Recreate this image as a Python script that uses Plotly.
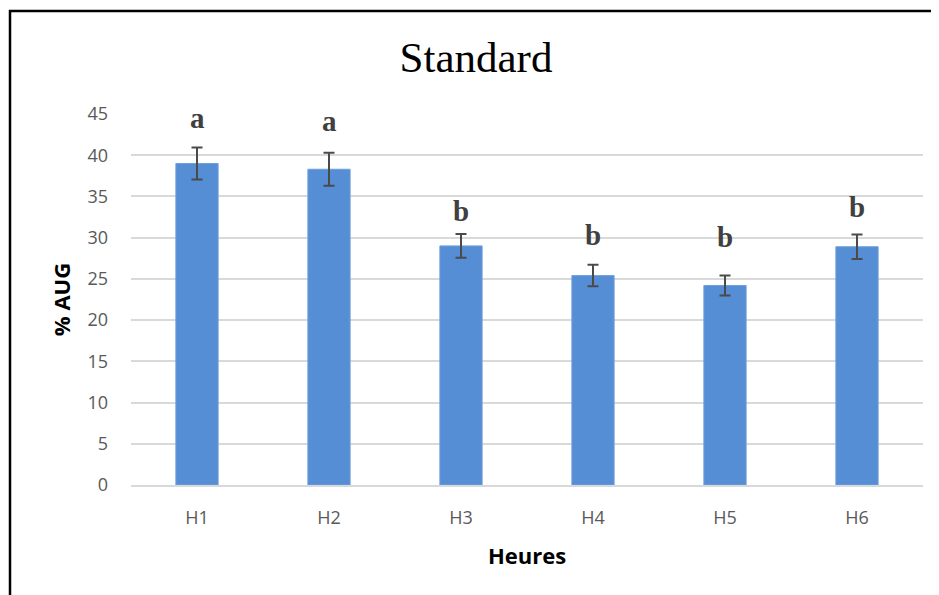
import plotly.graph_objects as go

categories = ["H1", "H2", "H3", "H4", "H5", "H6"]
values = [39.0, 38.3, 29.0, 25.4, 24.2, 28.9]
errors = [1.95, 2.0, 1.45, 1.3, 1.22, 1.48]
letters = ["a", "a", "b", "b", "b", "b"]
letter_heights = [43.15, 42.86, 31.9, 29.0, 28.77, 32.4]
y_ticks = [0, 5, 10, 15, 20, 25, 30, 35, 40, 45]

OFF = 8  # page body margin
W, H = 939, 595
L = 131 - OFF
T = 114 - OFF
R = W - (923 - OFF)
B = H - (485 - OFF)

fig = go.Figure()
fig.add_trace(go.Bar(
    x=categories, y=values, width=0.32,
    marker=dict(color="#558ed5", line=dict(color="#6f9fdc", width=1)),
    error_y=dict(type="data", array=errors, visible=True, color="#4a4a4a",
                 thickness=2, width=5.5),
    showlegend=False,
))

for c, t, h in zip(categories, letters, letter_heights):
    fig.add_annotation(x=c, y=h, text=t, showarrow=False, yanchor="bottom",
                       yshift=-7,
                       font=dict(family="Liberation Serif", size=29, color="#404040",
                                 weight="bold"))

def px2paper_x(px):
    return (px - OFF - L) / (W - L - R)

def px2paper_y(py):
    return (H - B - (py - OFF)) / (H - T - B)

fig.add_shape(type="rect", xref="paper", yref="paper",
              x0=px2paper_x(10), x1=px2paper_x(960),
              y0=px2paper_y(620), y1=px2paper_y(11),
              line=dict(color="black", width=2.5), fillcolor="rgba(0,0,0,0)",
              layer="above")

fig.update_layout(
    width=W, height=H,
    margin=dict(l=L, r=R, t=T, b=B),
    paper_bgcolor="white", plot_bgcolor="white",
    title=dict(text="Standard", x=(476 - OFF) / W, xanchor="center",
               y=1 - (57 - OFF) / H, yanchor="middle",
               font=dict(family="Liberation Serif", size=43, color="black")),
    bargap=0.68,
    xaxis=dict(
        tickfont=dict(family="Open Sans", size=18, color="#595959"),
        showline=True, linecolor="#d9d9d9", linewidth=1.5,
        ticks="", ticklabelstandoff=16,
        title=dict(text="Heures", standoff=20,
                   font=dict(family="Open Sans", size=22, color="black", weight="bold")),
    ),
    yaxis=dict(
        range=[0, 45], tickvals=y_ticks,
        tickfont=dict(family="Open Sans", size=18, color="#595959"),
        gridcolor="#d9d9d9", gridwidth=1.5, zeroline=False,
        ticks="", ticklabelstandoff=22,
        title=dict(text="% AUG", standoff=10,
                   font=dict(family="Open Sans", size=22, color="black", weight="bold")),
    ),
)

fig.write_html("out.html")
